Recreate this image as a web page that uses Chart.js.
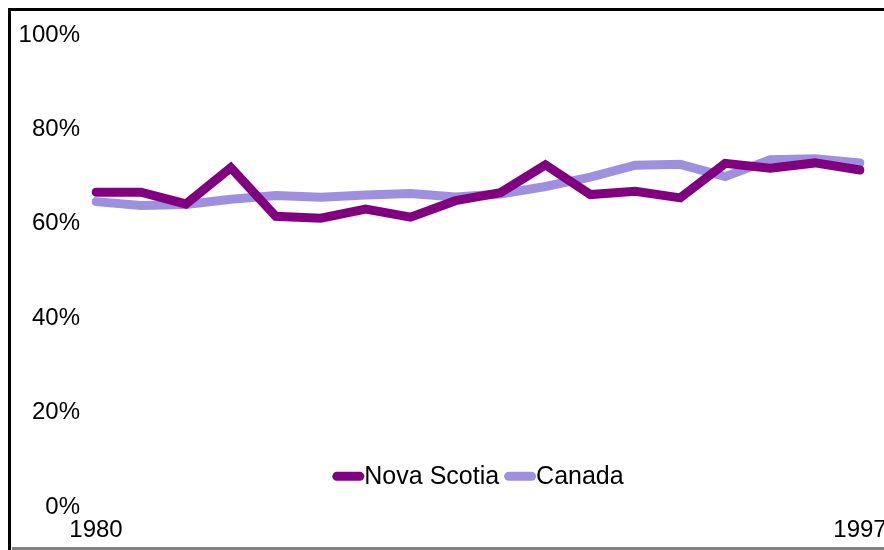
<!DOCTYPE html>
<html>
<head>
<meta charset="utf-8">
<script src="https://cdn.jsdelivr.net/npm/chart.js@4/dist/chart.umd.min.js"></script>
<style>
  html, body { margin: 0; padding: 0; background: #fff; overflow: hidden; width: 884px; height: 550px; }
  #wrap { position: absolute; left: 0; top: 0; width: 900px; height: 550px; }
  .frame-left { position: absolute; left: 8px; top: 8px; width: 3px; height: 542px; background: #000; z-index: 2; }
  .frame-top { position: absolute; left: 8px; top: 8px; width: 876px; height: 3px; background: #000; z-index: 2; }
  .frame-bottom { position: absolute; left: 12px; top: 547px; width: 872px; height: 3px; background: #808080; z-index: 2; }
</style>
</head>
<body>
<div id="wrap"><canvas id="c" width="900" height="550"></canvas></div>
<div class="frame-left"></div>
<div class="frame-top"></div>
<div class="frame-bottom"></div>
<script>
// Participation rate, per cent
const years = ['1980','1981','1982','1983','1984','1985','1986','1987','1988','1989',
               '1990','1991','1992','1993','1994','1995','1996','1997'];
const novaScotia = [66.7, 66.7, 64.2, 71.9, 61.6, 61.2, 63.1, 61.4, 64.9, 66.6,
                    72.5, 66.2, 66.9, 65.5, 72.8, 71.8, 72.9, 71.4];
const canada = [64.7, 63.9, 64.1, 65.2, 66.0, 65.6, 66.1, 66.4, 65.7, 66.3,
                67.9, 69.9, 72.4, 72.6, 70.0, 73.6, 73.8, 72.9];
const yTicks = [0, 20, 40, 60, 80, 100];

const FAMILY = '"Liberation Sans", Arial, sans-serif';
const FONT = { family: FAMILY, size: 24 };
const LEGEND_SIZE = 25;

// Legend drawn inside the plot, line swatch directly against the label
const inlineLegend = {
  id: 'inlineLegend',
  afterDraw(chart) {
    const ctx = chart.ctx;
    const area = chart.chartArea;
    const swatch = 32, lw = 9, gapItem = 5;
    ctx.save();
    ctx.font = LEGEND_SIZE + 'px ' + FAMILY;
    const items = chart.data.datasets.map(ds => ({
      ds, w: ctx.measureText(ds.label).width
    }));
    let total = 0;
    items.forEach((it, i) => { total += swatch + it.w + (i ? gapItem : 0); });
    let x = (area.left + area.right) / 2 - total / 2;
    const y = chart.scales.y.getPixelForValue(6.5);
    items.forEach((it, i) => {
      if (i) x += gapItem;
      ctx.strokeStyle = it.ds.borderColor;
      ctx.lineWidth = lw;
      ctx.lineCap = 'round';
      ctx.beginPath();
      ctx.moveTo(x + lw / 2, y);
      ctx.lineTo(x + swatch - lw / 2, y);
      ctx.stroke();
      x += swatch;
      ctx.fillStyle = '#000';
      ctx.textBaseline = 'middle';
      ctx.textAlign = 'left';
      ctx.fillText(it.ds.label, x, y + 1);
      x += it.w;
    });
    ctx.restore();
  }
};

new Chart(document.getElementById('c'), {
  type: 'line',
  data: {
    labels: years,
    datasets: [
      {
        label: 'Nova Scotia',
        data: novaScotia,
        borderColor: '#800080',
        borderWidth: 9,
        borderCapStyle: 'round',
        borderJoinStyle: 'miter',
        pointRadius: 0,
        tension: 0
      },
      {
        label: 'Canada',
        data: canada,
        borderColor: '#9e90de',
        borderWidth: 9,
        borderCapStyle: 'round',
        borderJoinStyle: 'miter',
        pointRadius: 0,
        tension: 0
      }
    ]
  },
  options: {
    responsive: false,
    animation: false,
    devicePixelRatio: 1,
    layout: { padding: { left: 0, right: 40, top: 35, bottom: 0 } },
    plugins: { legend: { display: false }, tooltip: { enabled: false } },
    scales: {
      x: {
        grid: { display: false, drawTicks: false },
        border: { display: false },
        ticks: {
          autoSkip: false,
          maxRotation: 0,
          padding: 9,
          color: '#000',
          font: FONT,
          callback: (v, i) => (i === 0 || i === years.length - 1) ? years[i] : ''
        },
        afterFit: s => { s.height = 43; }
      },
      y: {
        min: 0,
        max: 100,
        afterBuildTicks: s => { s.ticks = yTicks.map(v => ({ value: v })); },
        grid: { display: false, drawTicks: false },
        border: { display: false },
        ticks: {
          padding: 16,
          color: '#000',
          font: FONT,
          callback: v => v + '%'
        },
        afterFit: s => { s.width = 96; }
      }
    }
  },
  plugins: [inlineLegend]
});
</script>
</body>
</html>
